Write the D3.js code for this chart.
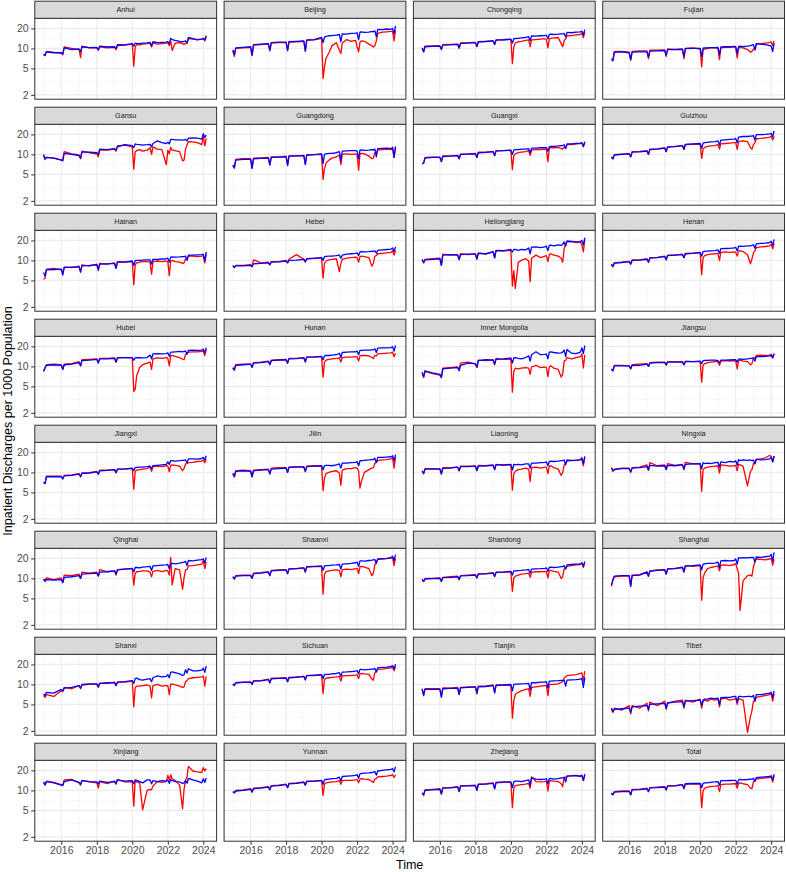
<!DOCTYPE html>
<html>
<head>
<meta charset="utf-8">
<script src="https://cdn.jsdelivr.net/npm/d3@7"></script>
<style>
  body { margin: 0; background: #ffffff; }
  svg { display: block; font-family: "Liberation Sans", Arial, Helvetica, sans-serif; }
</style>
</head>
<body>
<div id="chart"></div>
<script>
// Monthly time points sampled from the series (year-month)
var months = ["2015-01","2015-02","2015-03","2015-08","2016-01","2016-02","2016-03","2016-08",
  "2017-01","2017-02","2017-03","2017-08","2018-01","2018-02","2018-03","2018-08",
  "2019-01","2019-02","2019-03","2019-08",
  "2020-01","2020-02","2020-03","2020-04","2020-06","2020-08","2020-11",
  "2021-01","2021-02","2021-03","2021-06","2021-09","2021-12",
  "2022-01","2022-02","2022-03","2022-04","2022-06","2022-09","2022-11","2022-12",
  "2023-01","2023-02","2023-03","2023-06","2023-09","2023-12",
  "2024-01","2024-02","2024-03"];

// Axis tick labels
var yTicks = [2, 5, 10, 20];
var yMinor = [3.16, 7.07, 14.14];
var xTicks = [2016, 2018, 2020, 2022, 2024];
var xMinor = [2015, 2017, 2019, 2021, 2023];

// Red and blue series per province
var anhuiRed = [8.0,7.8,9.0,8.7, 8.5,8.0,10.5,10.0, 9.6,7.3,10.8,10.2, 10.2,9.4,10.6,10.2, 10.4,9.6,11.0,11.2, 11.6,5.4,10.5,11.5,11.3,11.6,11.8, 12.0,10.5,12.0,11.6,11.8,12.0, 12.2,11.0,13.0,9.3,12.0,12.2,11.8,11.5, 12.0,11.8,14.0,13.8,13.4,13.8, 14.0,13.0,15.0];
var anhuiBlue = [8.2,7.8,8.9,8.6, 8.6,8.3,10.2,9.6, 9.8,9.0,10.6,10.3, 10.4,9.5,10.8,10.5, 10.6,9.9,11.4,11.3, 11.8,10.8,12.0,11.9,11.8,12.0,12.1, 12.3,11.0,12.6,12.2,12.3,12.4, 12.6,11.8,14.2,13.6,13.2,12.8,12.6,12.8, 13.0,12.2,14.6,14.0,13.6,13.8, 14.2,13.4,15.6];

var beijingRed = [9.2,7.6,10.0,10.2, 10.4,7.8,11.2,11.4, 11.6,9.2,12.0,12.2, 12.2,9.2,12.4,12.6, 12.8,9.0,13.2,13.4, 14.2,3.5,5.3,7.1,8.6,11.0,12.2, 9.4,8.4,12.0,13.6,12.8,13.2, 10.5,8.9,12.4,13.0,12.8,11.6,11.0,10.5, 11.0,13.0,16.8,17.6,17.8,18.0, 18.0,13.0,18.9];
var beijingBlue = [9.5,8.0,10.2,10.4, 10.6,7.9,11.4,11.6, 11.8,9.4,12.2,12.4, 12.4,9.4,12.6,12.8, 13.0,9.2,13.4,13.6, 14.6,12.2,14.8,15.2,15.5,15.6,15.8, 16.2,12.6,16.6,16.4,16.8,17.0, 17.2,13.5,17.6,17.8,17.4,17.6,18.0,17.8, 18.4,15.0,19.4,19.2,19.6,19.4, 20.0,16.5,21.8];

var chongqingRed = [10.0,8.8,10.8,10.9, 11.0,9.8,11.4,11.5, 11.6,10.0,12.1,12.2, 12.3,10.6,12.6,12.8, 13.0,11.4,13.3,13.4, 13.6,5.9,10.5,12.0,12.6,12.8,13.2, 13.4,10.6,13.4,13.6,13.8,14.0, 13.6,10.2,13.8,14.2,14.4,14.6,11.8,10.6, 13.0,14.0,15.5,15.6,16.0,16.2, 17.0,14.5,17.4];
var chongqingBlue = [10.2,9.0,10.6,10.7, 10.8,9.6,11.2,11.3, 11.5,10.2,11.9,12.0, 12.2,10.8,12.6,12.7, 13.0,11.5,13.4,13.5, 13.8,12.0,14.0,14.1,14.2,14.4,14.6, 15.0,13.0,15.4,15.3,15.5,15.6, 15.8,14.0,16.2,16.4,16.2,16.4,16.6,16.5, 16.8,15.0,17.4,17.2,17.6,17.8, 18.2,16.0,19.2];

var fujianRed = [7.0,6.8,9.0,9.0, 8.8,6.6,9.0,9.2, 9.2,7.0,9.4,9.4, 9.5,7.6,9.8,9.7, 9.8,7.0,10.0,10.2, 9.8,5.3,9.6,9.8,10.0,10.2,10.2, 10.0,6.8,10.2,10.4,10.4,10.6, 10.2,7.2,10.0,10.4,10.2,9.6,8.8,9.0, 9.8,9.6,11.6,11.8,12.0,12.2, 12.6,11.0,13.0];
var fujianBlue = [6.8,6.5,8.7,8.9, 8.6,6.8,8.8,8.9, 8.9,7.4,9.1,9.2, 9.3,7.9,9.6,9.6, 9.7,7.6,9.9,10.0, 10.0,7.6,10.1,10.2,10.2,10.3,10.3, 10.4,8.0,10.5,10.6,10.6,10.7, 10.6,8.4,10.6,10.8,10.6,10.8,11.0,11.2, 11.4,9.4,11.8,11.6,11.4,11.0, 10.8,9.0,12.0];

var gansuRed = [9.6,8.4,9.0,8.8, 8.3,8.4,11.0,10.2, 9.8,8.6,11.2,10.6, 10.2,9.2,11.6,11.6, 12.0,11.2,13.4,13.8, 13.0,6.0,11.0,11.4,11.8,11.2,11.6, 12.6,10.0,13.0,12.0,11.8,7.0, 11.5,10.2,12.8,11.6,11.4,11.0,8.0,8.2, 12.0,14.0,15.6,15.4,15.0,14.0, 19.0,13.5,17.5];
var gansuBlue = [10.0,8.6,9.0,8.8, 8.2,8.0,10.4,10.0, 9.6,8.8,10.8,10.8, 10.6,10.0,12.0,11.8, 12.2,11.5,13.0,14.0, 13.6,12.6,14.4,14.2,14.0,13.8,14.0, 14.2,13.0,14.6,16.0,15.0,14.6, 15.2,14.5,16.8,16.8,16.6,16.6,16.4,16.6, 16.8,16.0,17.6,17.8,17.6,17.0, 20.5,18.0,19.5];

var guangdongRed = [6.8,6.4,8.4,8.6, 8.6,6.4,8.8,8.9, 9.0,7.0,9.2,9.2, 9.4,7.0,9.5,9.5, 9.7,7.2,9.8,9.9, 10.0,4.2,6.1,7.4,8.2,8.8,9.2, 9.8,7.0,10.0,10.2,10.0,10.2, 9.8,5.8,10.2,10.4,10.2,9.4,8.6,8.8, 10.6,10.4,11.6,11.8,12.0,11.8, 12.2,9.0,12.8];
var guangdongBlue = [6.9,6.2,8.2,8.4, 8.4,6.1,8.6,8.7, 8.8,6.9,9.0,9.1, 9.2,6.8,9.4,9.5, 9.6,7.0,9.8,9.9, 10.2,7.3,10.0,10.2,10.4,10.4,10.6, 11.0,8.0,11.2,11.3,11.4,11.4, 11.2,8.6,11.6,11.7,11.5,11.6,11.8,11.6, 12.0,9.2,12.2,12.3,12.4,12.2, 12.8,9.0,13.2];

var guangxiRed = [7.2,7.4,9.0,9.1, 9.1,7.8,9.5,9.5, 9.7,8.6,10.1,10.2, 10.4,9.0,10.8,10.8, 11.0,9.6,11.3,11.4, 11.5,5.9,9.6,10.2,10.6,10.8,11.0, 11.4,9.6,11.6,11.8,11.8,12.0, 11.8,7.8,12.4,12.6,12.6,12.8,12.2,12.0, 13.0,12.4,14.0,14.0,14.4,14.6, 14.8,13.0,15.2];
var guangxiBlue = [7.3,7.4,8.8,9.0, 9.0,7.8,9.3,9.4, 9.6,8.6,10.0,10.1, 10.2,9.0,10.6,10.7, 11.0,9.6,11.3,11.4, 11.6,10.0,11.6,11.8,11.8,12.0,12.0, 12.2,10.6,12.4,12.4,12.6,12.6, 12.8,11.2,13.0,13.2,13.2,13.4,13.6,13.6, 14.0,12.2,14.4,14.4,14.6,14.8, 15.0,13.2,15.6];

var guizhouRed = [9.0,8.6,9.9,10.1, 10.3,9.2,11.0,11.1, 11.4,10.0,12.0,12.1, 12.6,11.0,13.0,13.2, 13.6,11.8,14.0,14.2, 14.2,8.7,12.0,12.8,13.2,13.4,13.6, 14.0,12.0,14.4,14.6,14.8,15.0, 15.0,11.9,15.4,15.8,16.0,15.6,12.6,12.0, 14.0,15.0,17.2,17.4,17.8,18.2, 19.0,16.5,18.6];
var guizhouBlue = [9.2,8.6,9.8,10.0, 10.2,9.2,10.8,10.9, 11.2,10.0,11.8,12.0, 12.4,11.0,12.9,13.1, 13.6,12.0,14.2,14.4, 14.6,12.4,14.8,15.0,15.2,15.4,15.6, 16.0,13.8,16.4,16.6,16.8,17.0, 17.4,15.0,18.2,18.4,18.6,18.6,18.8,18.8, 19.2,16.4,19.8,19.8,20.0,20.4, 20.8,18.4,22.6];

var hainanRed = [5.2,5.4,7.4,7.6, 7.2,6.6,8.0,7.8, 8.2,6.6,8.6,8.2, 8.8,7.0,9.0,8.8, 9.2,7.6,9.6,9.5, 9.6,4.3,8.6,9.2,9.4,9.6,9.6, 9.4,6.2,9.6,9.8,9.6,9.8, 9.6,5.9,9.8,10.0,9.6,9.4,9.0,9.2, 10.6,10.4,11.6,11.6,11.4,11.6, 11.8,9.2,12.6];
var hainanBlue = [6.6,5.8,7.2,7.3, 7.4,6.0,7.8,7.9, 8.0,6.8,8.3,8.4, 8.6,7.2,8.8,8.9, 9.0,7.6,9.4,9.4, 9.8,8.4,9.9,10.0,10.0,10.1,10.2, 10.2,8.8,10.4,10.4,10.5,10.6, 10.8,9.4,11.2,11.3,11.2,11.3,11.4,11.4, 11.6,10.0,12.0,12.0,12.1,12.2, 12.4,9.8,13.4];

var hebeiRed = [8.2,7.8,8.4,8.4, 8.6,8.2,10.2,9.2, 9.4,8.6,9.6,9.6, 10.0,9.2,10.4,12.2, 10.4,9.4,10.6,10.8, 10.8,5.4,9.0,9.8,10.2,10.4,10.6, 6.8,9.0,10.4,10.8,11.0,11.2, 11.0,9.4,11.4,11.6,11.4,11.0,8.2,9.0, 11.6,11.8,12.6,12.8,13.0,13.2, 14.0,12.0,14.2];
var hebeiBlue = [8.4,7.8,8.3,8.3, 8.4,8.0,8.9,9.0, 9.2,8.6,9.4,9.5, 9.8,9.2,10.0,10.1, 10.4,9.6,10.6,10.7, 11.0,10.0,11.4,11.5,11.6,11.6,11.8, 12.0,10.8,12.0,12.4,12.6,12.8, 13.0,11.8,13.4,13.5,13.4,13.6,13.8,13.6, 14.0,12.8,14.2,14.4,14.6,14.8, 15.4,13.6,16.0];

var heilongjiangRed = [10.2,9.2,10.4,10.6, 10.8,8.4,12.4,12.0, 12.2,10.2,12.6,12.2, 12.6,10.4,13.0,12.4, 13.6,10.8,14.0,13.8, 14.2,4.1,7.0,3.8,9.4,10.0,10.6, 9.8,4.8,10.8,12.0,11.0,11.6, 11.8,9.6,12.2,12.6,12.0,11.6,10.8,9.4, 15.0,18.0,19.0,19.2,18.6,18.8, 17.0,13.5,20.8];
var heilongjiangBlue = [10.4,9.2,10.2,10.4, 10.6,8.4,12.0,12.2, 12.0,10.4,12.2,12.4, 12.4,10.6,12.8,12.6, 13.4,11.0,14.2,14.0, 14.6,13.4,14.6,14.6,14.2,14.6,14.4, 15.4,12.6,15.8,16.0,15.6,16.0, 16.4,14.0,16.8,17.0,16.6,17.2,16.8,17.4, 19.0,16.4,19.6,19.4,19.0,19.2, 20.0,17.0,22.0];

var henanRed = [8.6,8.0,9.2,9.4, 9.7,8.8,10.2,10.2, 10.6,9.4,11.0,11.1, 11.6,10.2,12.0,12.0, 12.4,11.0,12.7,12.9, 13.0,6.1,11.0,11.8,12.2,12.4,12.6, 12.8,10.0,13.2,13.4,13.2,13.4, 13.2,11.6,13.8,14.0,13.6,12.2,8.9,10.5, 13.0,14.0,15.6,16.0,16.2,16.6, 17.6,15.0,18.0];
var henanBlue = [8.8,8.2,9.1,9.3, 9.6,8.8,10.0,10.1, 10.4,9.4,10.8,11.0, 11.4,10.2,11.8,12.0, 12.2,11.0,12.6,12.8, 13.2,11.6,13.6,13.7,13.8,13.9,14.0, 14.4,12.8,15.0,15.1,15.2,15.4, 15.8,13.8,16.2,16.4,16.3,16.5,16.6,16.8, 17.2,15.2,17.8,18.0,18.2,18.6, 19.4,17.0,20.8];

var hubeiRed = [8.6,9.6,10.6,10.8, 10.6,9.2,10.8,11.0, 11.8,10.2,12.6,12.8, 13.0,11.4,13.2,13.2, 13.4,11.6,13.6,13.6, 13.4,4.2,4.5,7.3,9.6,10.6,11.2, 11.6,9.0,13.0,13.4,13.2,13.6, 13.2,10.2,14.4,14.6,14.2,13.6,12.8,12.6, 15.2,15.6,16.4,16.6,16.6,16.8, 17.0,14.5,18.2];
var hubeiBlue = [8.4,9.4,10.4,10.6, 10.4,9.0,10.6,10.8, 11.4,10.2,12.2,12.4, 12.8,11.2,13.0,13.0, 13.2,11.6,13.4,13.6, 13.6,12.4,13.4,13.5,13.6,13.4,13.6, 14.8,13.0,15.4,15.6,15.4,15.6, 16.0,14.2,16.4,16.4,16.6,16.8,16.6,16.8, 17.0,15.2,17.4,17.6,17.4,17.6, 18.2,16.0,19.2];

var hunanRed = [9.4,8.8,10.6,10.8, 10.8,9.8,11.4,11.6, 12.0,10.8,12.4,12.6, 12.8,11.2,13.2,13.2, 13.6,11.6,13.8,13.8, 14.0,6.9,11.6,12.4,12.8,13.0,13.2, 13.4,11.6,13.6,13.8,13.8,14.0, 14.0,12.0,14.4,14.6,14.6,14.4,13.6,13.2, 14.6,14.4,15.4,15.6,15.8,16.0, 16.4,14.0,15.8];
var hunanBlue = [9.6,8.8,10.4,10.6, 10.8,9.6,11.2,11.4, 11.8,10.6,12.2,12.4, 12.6,11.2,13.0,13.1, 13.4,11.8,13.8,13.9, 14.2,12.6,14.4,14.6,14.6,14.8,15.0, 15.8,13.6,16.2,16.4,16.6,16.6, 17.0,15.0,17.4,17.4,17.6,17.6,17.8,17.8, 18.4,16.2,18.8,19.0,19.0,19.2, 19.8,17.0,20.8];

var innerMongoliaRed = [8.0,6.8,8.4,7.8, 7.4,6.8,9.4,9.6, 9.8,8.8,11.2,11.6, 10.8,9.6,12.4,12.2, 12.6,10.6,13.2,12.8, 12.8,4.1,8.4,9.4,9.2,9.4,9.6, 9.4,7.6,9.8,10.4,9.6,9.8, 9.6,7.0,9.8,10.2,9.4,9.0,6.9,7.6, 12.0,12.4,13.6,13.0,13.6,14.0, 15.4,9.5,15.0];
var innerMongoliaBlue = [8.2,7.0,8.6,8.0, 7.6,6.8,9.2,9.4, 9.6,8.6,10.4,11.2, 11.0,9.8,12.2,12.6, 12.4,10.8,12.8,13.0, 13.4,11.2,13.4,13.6,13.2,13.0,13.6, 14.4,12.0,15.0,16.6,15.0,15.2, 15.4,13.0,16.4,16.6,16.2,15.8,16.0,16.4, 17.6,14.0,18.0,15.8,15.6,16.4, 19.0,15.6,20.6];

var jiangsuRed = [9.0,8.6,10.4,10.4, 10.2,9.2,10.6,10.8, 11.0,10.0,11.4,11.6, 11.6,10.4,11.8,11.8, 11.8,10.6,12.0,11.8, 11.8,5.8,10.4,11.0,11.4,11.6,11.8, 11.8,10.4,12.0,12.2,12.0,12.2, 12.0,9.2,12.2,12.4,12.0,11.8,10.6,11.0, 13.6,13.4,14.6,14.8,14.6,14.8, 15.2,13.6,15.6];
var jiangsuBlue = [9.2,8.6,10.2,10.2, 10.2,9.2,10.4,10.4, 10.8,10.0,11.2,11.4, 11.4,10.6,11.6,11.6, 11.6,10.6,11.8,11.8, 12.0,11.0,12.2,12.3,12.3,12.4,12.4, 12.2,11.2,12.4,12.4,12.5,12.6, 12.6,11.6,12.8,13.0,12.8,13.0,13.2,13.2, 13.4,12.0,14.0,14.0,14.2,14.4, 14.8,13.4,15.4];

var jiangxiRed = [7.0,6.8,8.8,8.8, 8.8,8.0,9.0,9.2, 9.6,8.6,9.8,9.9, 10.4,9.4,10.8,10.8, 11.0,9.8,11.2,11.2, 11.4,5.6,10.4,10.8,11.0,11.2,11.4, 12.0,10.4,12.2,12.4,12.2,12.6, 12.4,10.2,12.8,13.0,12.8,12.4,10.6,11.4, 13.4,13.6,14.0,14.2,14.6,14.8, 15.4,14.0,15.8];
var jiangxiBlue = [7.1,6.8,8.6,8.6, 8.6,8.0,8.9,9.0, 9.4,8.6,9.7,9.8, 10.2,9.4,10.6,10.7, 11.0,10.0,11.2,11.3, 11.6,10.6,11.8,11.9,12.0,12.0,12.2, 12.4,11.4,12.6,12.8,13.0,13.2, 14.4,13.2,15.0,15.0,14.8,15.0,15.2,15.2, 15.4,14.0,16.0,16.0,15.8,16.2, 16.8,15.4,17.8];

var jilinRed = [9.4,8.6,10.6,10.8, 10.6,8.6,10.8,11.0, 11.2,9.4,11.6,11.8, 11.8,10.0,12.0,12.2, 12.2,10.2,12.4,12.6, 12.4,5.3,8.2,9.6,10.0,10.4,10.6, 9.8,6.4,10.8,11.4,11.4,11.8, 11.6,10.6,5.8,7.4,10.0,11.0,11.6,11.8, 13.6,14.4,15.0,15.4,15.6,16.0, 16.6,11.6,17.0];
var jilinBlue = [9.7,8.6,10.4,10.6, 10.4,8.6,10.6,10.8, 11.0,9.6,11.2,11.4, 11.6,10.0,11.9,12.0, 12.0,10.4,12.2,12.4, 12.6,11.0,12.6,12.8,12.8,12.6,13.0, 13.4,11.6,13.8,13.8,14.0,14.2, 14.6,12.6,15.0,15.0,15.2,15.4,15.6,15.6, 16.4,14.0,16.8,16.8,17.0,17.2, 17.8,14.8,18.6];

var liaoningRed = [10.4,9.6,11.4,11.4, 11.4,9.6,11.8,11.8, 12.0,10.6,12.4,12.4, 12.4,10.8,12.8,12.6, 13.0,11.0,13.2,12.8, 13.0,5.4,9.6,10.4,11.0,11.2,11.6, 11.2,7.3,11.8,12.0,11.6,12.0, 12.0,9.6,12.4,12.6,11.8,11.2,9.0,9.8, 13.0,13.8,14.8,15.0,15.2,15.4, 16.0,12.6,17.0];
var liaoningBlue = [10.6,9.6,11.2,11.2, 11.2,9.4,11.5,11.6, 12.0,10.6,12.2,12.2, 12.4,10.6,12.4,12.6, 12.8,11.0,13.1,13.0, 13.2,10.8,13.2,13.1,13.2,13.0,13.4, 13.4,11.6,13.8,13.8,14.0,14.2, 14.4,12.6,14.6,14.8,14.6,14.8,15.0,15.0, 15.4,13.0,15.4,15.2,15.2,15.6, 16.6,13.6,17.4];

var ningxiaRed = [11.6,10.4,11.2,11.6, 11.6,10.0,11.8,12.0, 13.0,10.8,14.0,12.6, 13.0,11.0,13.6,12.8, 13.2,11.0,14.2,13.4, 13.4,5.2,11.0,11.6,12.0,12.2,12.4, 12.6,9.8,13.0,12.8,12.4,12.6, 12.8,10.6,13.2,13.0,12.4,6.3,10.4,11.0, 13.6,14.0,15.6,16.0,16.6,18.0, 17.4,14.6,17.6];
var ningxiaBlue = [11.9,10.6,11.0,11.4, 11.4,10.2,11.6,11.8, 12.2,10.8,12.8,12.4, 12.6,11.0,12.8,12.6, 13.0,11.2,13.2,13.4, 13.6,11.4,14.0,13.6,13.8,13.6,14.0, 14.2,12.0,14.4,14.0,14.6,14.4, 15.0,12.8,15.6,15.0,15.4,15.2,15.4,15.0, 15.4,13.4,15.8,15.4,15.6,16.0, 17.0,14.4,17.6];

var qinghaiRed = [9.6,9.4,10.2,9.6, 10.2,8.8,11.2,11.0, 11.6,10.0,12.4,12.0, 12.4,11.0,13.6,12.6, 13.0,11.2,13.6,13.8, 14.0,7.9,12.0,12.6,12.8,13.0,13.0, 12.4,10.6,12.8,13.2,12.6,13.2, 13.0,11.2,20.8,8.0,14.0,13.4,6.9,10.2, 13.4,13.6,15.4,15.6,16.0,16.4, 18.6,14.0,17.6];
var qinghaiBlue = [9.8,9.0,9.6,9.4, 9.6,8.6,10.4,10.6, 11.0,10.0,11.6,11.8, 12.0,10.8,12.4,12.6, 13.0,11.6,13.4,13.8, 14.2,12.6,14.6,14.6,14.4,14.8,15.0, 15.2,13.2,15.4,15.6,15.8,16.0, 16.2,14.0,16.4,16.8,16.6,17.0,17.4,17.6, 18.0,15.6,18.6,18.4,18.8,19.2, 19.8,17.0,20.8];

var shaanxiRed = [10.4,9.8,11.0,11.2, 11.2,10.0,12.0,12.2, 12.6,11.0,13.2,13.4, 13.6,11.8,14.0,14.0, 14.4,12.4,14.8,15.0, 15.0,5.8,11.6,12.6,13.0,13.2,13.4, 13.2,10.6,13.6,13.8,13.6,14.0, 14.2,11.8,15.0,15.2,14.8,14.0,11.0,12.0, 16.0,17.6,19.4,19.6,19.8,20.2, 20.4,15.6,20.2];
var shaanxiBlue = [10.6,9.8,10.8,11.0, 11.0,10.0,11.8,12.0, 12.4,11.0,13.0,13.2, 13.4,11.8,13.8,14.0, 14.4,12.6,15.0,15.2, 15.4,13.2,15.4,15.6,15.6,15.8,16.0, 16.2,13.8,16.4,16.6,16.8,17.2, 17.6,15.2,18.4,18.4,18.2,18.6,18.8,19.0, 19.2,16.8,19.6,19.8,20.0,20.6, 21.6,18.4,22.8];

var shandongRed = [9.4,9.0,10.0,10.0, 10.2,9.0,10.4,10.6, 10.8,9.6,11.0,11.2, 11.4,10.2,11.8,11.8, 12.2,10.6,12.4,12.4, 12.4,6.4,10.0,10.8,11.2,11.6,11.8, 12.0,10.4,12.4,12.6,12.6,12.8, 12.6,10.2,13.0,13.2,12.8,12.4,10.0,10.6, 13.8,14.2,15.2,15.6,16.0,16.2, 16.8,14.6,17.4];
var shandongBlue = [9.8,9.0,9.8,9.9, 10.0,9.0,10.3,10.4, 10.6,9.6,10.9,11.0, 11.2,10.2,11.6,11.7, 12.0,10.8,12.3,12.4, 12.8,11.2,13.0,13.0,13.1,13.2,13.4, 13.6,12.0,13.8,13.9,14.0,14.2, 14.4,12.8,14.6,14.8,14.6,14.8,15.0,15.0, 15.6,13.8,16.0,16.2,16.4,16.6, 17.2,15.4,18.0];

var shanghaiRed = [7.6,9.4,10.6,10.8, 10.8,7.8,11.2,11.4, 12.6,10.8,13.0,13.4, 13.6,11.6,14.0,14.2, 14.8,12.4,15.4,15.2, 15.6,4.7,10.2,12.0,14.0,14.6,15.0, 15.4,13.0,15.8,16.0,15.6,16.2, 16.8,14.0,12.0,3.3,9.2,11.0,11.2,10.8, 15.0,18.0,19.6,19.4,19.0,19.6, 20.2,15.8,19.4];
var shanghaiBlue = [8.0,9.6,10.8,11.0, 11.0,7.6,11.0,11.2, 12.4,10.8,12.8,13.2, 13.4,11.6,13.8,14.0, 14.6,12.6,15.4,15.6, 16.0,13.4,16.4,16.6,16.8,16.8,17.0, 17.6,14.6,18.4,18.6,18.4,18.6, 19.6,16.4,20.6,20.2,20.6,20.4,20.8,20.6, 20.8,17.6,21.0,20.8,21.2,21.6, 23.0,18.4,24.6];

var shanxiRed = [6.8,6.4,7.0,6.6, 8.0,7.8,9.0,8.6, 9.6,8.6,9.8,10.0, 10.0,9.0,10.4,10.4, 10.8,9.6,10.8,10.8, 11.2,4.6,9.0,9.4,9.4,9.6,9.8, 9.4,6.3,9.6,10.0,9.4,9.6, 9.6,7.0,10.0,10.2,9.8,9.4,9.0,9.2, 11.0,11.4,12.2,12.6,12.8,13.0, 13.4,9.4,13.2];
var shanxiBlue = [7.2,6.8,7.6,7.4, 8.4,8.0,8.8,9.0, 9.6,8.8,10.0,10.2, 10.2,9.2,10.4,10.6, 10.6,9.6,10.8,11.0, 11.4,10.4,12.2,12.4,11.8,11.6,12.0, 12.2,11.0,12.6,13.4,13.0,13.2, 14.0,12.6,15.2,15.4,15.0,14.4,13.6,14.0, 16.6,14.8,17.2,16.0,16.0,16.4, 17.6,15.2,18.8];

var sichuanRed = [10.0,9.6,10.6,10.8, 10.8,10.0,11.4,11.4, 12.0,10.6,12.4,12.4, 12.6,11.0,12.8,13.0, 13.2,11.6,13.6,13.6, 13.8,7.3,11.8,12.4,12.6,12.8,13.0, 13.2,11.2,13.4,13.6,13.6,13.8, 14.0,12.2,14.4,14.6,14.4,14.2,12.0,11.6, 15.0,15.6,16.8,17.0,17.4,17.8, 18.2,16.0,18.8];
var sichuanBlue = [10.2,9.6,10.6,10.7, 10.8,10.0,11.2,11.3, 11.8,10.6,12.1,12.3, 12.4,11.0,12.6,12.8, 13.2,11.8,13.6,13.8, 14.0,12.2,14.1,14.2,14.2,14.4,14.6, 15.0,13.2,15.3,15.4,15.6,15.8, 16.2,14.4,16.8,16.8,16.6,16.8,17.0,17.0, 17.4,15.4,17.8,18.0,18.2,18.6, 19.2,17.0,20.2];

var tianjinRed = [8.4,7.0,8.6,8.6, 8.6,6.6,8.9,8.8, 9.0,7.2,9.0,9.2, 9.2,7.2,9.4,9.4, 9.8,7.4,9.8,9.8, 9.6,3.1,5.6,7.1,7.6,8.0,8.4, 8.6,6.6,9.0,9.2,9.4,9.6, 9.6,6.8,9.8,10.0,10.0,10.2,10.8,11.0, 12.4,13.0,13.6,13.8,14.0,14.6, 15.0,11.4,15.8];
var tianjinBlue = [8.6,6.8,8.4,8.4, 8.4,6.4,8.6,8.7, 8.8,7.0,8.9,9.0, 9.2,7.4,9.2,9.3, 9.6,7.6,9.7,9.8, 10.0,8.0,10.0,10.1,10.1,10.2,10.3, 10.4,8.2,10.6,10.6,10.8,10.8, 11.0,8.8,11.2,11.2,11.3,11.4,11.5,11.5, 11.6,9.4,11.6,11.7,11.8,12.0, 12.4,9.0,12.8];

var tibetRed = [4.2,3.8,4.4,4.1, 4.8,3.6,4.8,4.4, 5.2,4.0,5.4,4.8, 5.6,4.2,5.2,5.6, 5.8,4.4,5.8,5.4, 6.0,4.4,5.6,5.8,5.6,6.0,5.8, 6.0,4.6,6.0,6.2,5.8,6.0, 6.2,5.0,6.2,6.0,5.8,1.9,3.3,4.0, 5.6,5.6,6.4,6.6,6.8,7.0, 7.2,5.6,7.2];
var tibetBlue = [4.4,3.9,4.2,4.3, 4.4,3.8,4.6,4.7, 4.8,4.2,5.0,5.1, 5.2,4.4,5.3,5.4, 5.5,4.6,5.6,5.7, 5.8,4.8,5.8,6.0,6.0,6.2,6.1, 6.2,5.0,6.3,6.4,6.4,6.6, 6.6,5.4,6.6,6.6,6.5,6.6,6.6,6.5, 6.8,5.6,7.0,7.0,7.2,7.4, 7.6,6.4,8.0];

var xinjiangRed = [13.4,12.2,13.8,13.2, 12.2,12.0,14.4,14.6, 13.0,12.0,14.2,13.4, 13.0,10.8,13.6,12.6, 13.8,12.4,14.6,13.4, 13.6,5.8,14.2,13.4,13.0,5.1,10.0, 10.4,10.2,11.6,13.6,13.2,13.6, 16.8,14.4,17.2,15.0,14.2,12.0,5.3,10.4, 14.0,16.0,23.0,19.6,19.0,18.6, 22.0,19.6,21.4];
var xinjiangBlue = [13.2,12.0,13.6,13.0, 12.0,11.8,13.6,14.4, 13.2,12.4,14.0,13.6, 13.4,12.6,13.8,13.2, 13.6,12.8,14.4,13.8, 14.0,12.6,14.4,14.2,13.6,13.0,14.4, 14.4,12.6,14.0,13.6,14.0,13.8, 14.4,12.8,14.6,14.0,13.6,13.4,12.8,13.0, 14.0,12.8,15.2,14.4,13.8,13.0, 15.0,13.2,15.4];

var yunnanRed = [9.4,9.2,10.0,10.2, 10.6,9.6,10.8,11.0, 11.4,10.4,11.8,12.0, 12.4,11.0,12.8,13.0, 13.4,12.0,13.8,13.8, 14.0,8.4,12.4,13.0,13.2,13.4,13.6, 14.0,12.4,14.0,14.2,14.2,14.4, 14.6,13.0,14.8,15.0,14.8,14.6,13.6,13.2, 14.8,15.0,16.0,16.2,16.4,16.8, 17.4,15.6,17.2];
var yunnanBlue = [9.6,9.2,9.8,10.0, 10.4,9.4,10.6,10.8, 11.2,10.2,11.6,11.8, 12.2,11.0,12.6,12.8, 13.2,12.0,13.6,13.8, 14.2,12.4,14.4,14.6,14.8,15.0,15.2, 15.8,13.8,16.2,16.4,16.6,16.8, 17.4,15.2,17.8,18.0,18.2,18.4,18.6,18.8, 19.2,17.0,19.6,20.0,20.4,20.8, 21.4,19.0,22.6];

var zhejiangRed = [9.0,8.4,10.2,10.4, 10.6,8.8,11.0,11.0, 11.4,9.6,11.8,11.8, 12.0,10.0,12.4,12.6, 13.0,10.6,13.0,13.2, 13.2,5.5,10.8,11.8,12.0,12.2,12.4, 12.8,10.8,16.0,13.6,13.4,13.6, 13.8,9.8,13.8,14.0,13.8,13.6,12.6,11.4, 15.8,15.6,16.4,16.6,16.6,16.2, 16.6,14.0,17.0];
var zhejiangBlue = [9.2,8.6,10.0,10.2, 10.4,8.8,10.8,10.9, 11.2,9.6,11.6,11.7, 11.8,10.0,12.3,12.4, 12.8,10.6,13.2,13.4, 13.4,11.0,13.4,13.8,13.8,13.6,14.0, 14.4,12.0,15.6,14.8,14.6,14.8, 15.0,12.6,15.0,15.2,14.8,15.0,15.4,15.4, 15.6,13.4,16.4,16.6,16.8,16.4, 17.0,14.2,17.6];

var totalRed = [8.8,8.6,9.6,9.8, 9.8,8.6,10.4,10.4, 10.8,9.6,11.0,11.2, 11.4,10.2,11.8,11.8, 12.2,10.6,12.4,12.4, 12.4,5.5,9.8,10.8,11.2,11.4,11.6, 11.8,9.6,12.2,12.4,12.4,12.6, 12.6,10.8,12.8,13.0,12.6,12.2,10.8,10.6, 13.6,14.0,14.8,15.2,15.4,15.6, 16.0,13.4,16.6];
var totalBlue = [9.2,8.6,9.4,9.6, 9.6,8.6,10.2,10.3, 10.6,9.6,10.9,11.0, 11.2,10.2,11.6,11.7, 12.2,10.8,12.6,12.7, 12.8,11.0,12.8,13.0,13.0,13.2,13.4, 13.6,11.8,14.0,14.0,14.1,14.2, 14.2,12.4,14.4,14.6,14.4,14.6,14.8,14.8, 15.2,13.6,15.6,15.8,16.0,16.2, 16.6,14.4,17.6];

// Facet order, left to right, top to bottom
var facets = [
  {name: "Anhui", red: anhuiRed, blue: anhuiBlue},
  {name: "Beijing", red: beijingRed, blue: beijingBlue},
  {name: "Chongqing", red: chongqingRed, blue: chongqingBlue},
  {name: "Fujian", red: fujianRed, blue: fujianBlue},
  {name: "Gansu", red: gansuRed, blue: gansuBlue},
  {name: "Guangdong", red: guangdongRed, blue: guangdongBlue},
  {name: "Guangxi", red: guangxiRed, blue: guangxiBlue},
  {name: "Guizhou", red: guizhouRed, blue: guizhouBlue},
  {name: "Hainan", red: hainanRed, blue: hainanBlue},
  {name: "Hebei", red: hebeiRed, blue: hebeiBlue},
  {name: "Heilongjiang", red: heilongjiangRed, blue: heilongjiangBlue},
  {name: "Henan", red: henanRed, blue: henanBlue},
  {name: "Hubei", red: hubeiRed, blue: hubeiBlue},
  {name: "Hunan", red: hunanRed, blue: hunanBlue},
  {name: "Inner Mongolia", red: innerMongoliaRed, blue: innerMongoliaBlue},
  {name: "Jiangsu", red: jiangsuRed, blue: jiangsuBlue},
  {name: "Jiangxi", red: jiangxiRed, blue: jiangxiBlue},
  {name: "Jilin", red: jilinRed, blue: jilinBlue},
  {name: "Liaoning", red: liaoningRed, blue: liaoningBlue},
  {name: "Ningxia", red: ningxiaRed, blue: ningxiaBlue},
  {name: "Qinghai", red: qinghaiRed, blue: qinghaiBlue},
  {name: "Shaanxi", red: shaanxiRed, blue: shaanxiBlue},
  {name: "Shandong", red: shandongRed, blue: shandongBlue},
  {name: "Shanghai", red: shanghaiRed, blue: shanghaiBlue},
  {name: "Shanxi", red: shanxiRed, blue: shanxiBlue},
  {name: "Sichuan", red: sichuanRed, blue: sichuanBlue},
  {name: "Tianjin", red: tianjinRed, blue: tianjinBlue},
  {name: "Tibet", red: tibetRed, blue: tibetBlue},
  {name: "Xinjiang", red: xinjiangRed, blue: xinjiangBlue},
  {name: "Yunnan", red: yunnanRed, blue: yunnanBlue},
  {name: "Zhejiang", red: zhejiangRed, blue: zhejiangBlue},
  {name: "Total", red: totalRed, blue: totalBlue}
];

// Layout
var outerWidth = 786, outerHeight = 872;
var nCols = 4;
var panelLeft = 34.8, panelTop = 1.2;
var panelW = 181.8, panelH = 80.8, stripH = 17.2;
var colStep = 189.3, rowStep = 106;
var nRows = Math.ceil(facets.length / nCols);

var svg = d3.select('#chart').append('svg')
  .attr('width', outerWidth)
  .attr('height', outerHeight);

var parseMonth = d3.timeParse('%Y-%m');
var dates = months.map(parseMonth);

// Shared scales (fixed facets)
var x = d3.scaleTime()
  .domain([new Date(2014, 6, 5), new Date(2024, 9, 1)])
  .range([0, panelW]);
var y = d3.scaleLog()
  .domain([1.72, 28.3])
  .range([panelH, 0]);

var line = d3.line()
  .defined(function(d) { return d != null; })
  .x(function(d, i) { return x(dates[i]); })
  .y(function(d) { return y(d); });

facets.forEach(function(f, k) {
  var col = k % nCols, row = Math.floor(k / nCols);
  var g = svg.append('g')
    .attr('transform', 'translate(' + (panelLeft + col * colStep) + ',' + (panelTop + row * rowStep) + ')');

  // Strip
  g.append('rect')
    .attr('x', 0).attr('y', 0)
    .attr('width', panelW).attr('height', stripH)
    .attr('fill', '#D9D9D9')
    .attr('stroke', '#333333')
    .attr('stroke-width', 1);
  g.append('text')
    .attr('x', panelW / 2)
    .attr('y', stripH / 2 + 2.5)
    .attr('text-anchor', 'middle')
    .style('font-size', '7.2px')
    .style('fill', '#1A1A1A')
    .text(f.name);

  var p = g.append('g').attr('transform', 'translate(0,' + stripH + ')');

  p.append('rect')
    .attr('width', panelW).attr('height', panelH)
    .attr('fill', '#ffffff');

  // Grid lines
  p.selectAll('.ymin').data(yMinor).enter().append('line')
    .attr('x1', 0).attr('x2', panelW)
    .attr('y1', function(d) { return y(d); }).attr('y2', function(d) { return y(d); })
    .attr('stroke', '#F2F2F2').attr('stroke-width', 0.6);
  p.selectAll('.xmin').data(xMinor).enter().append('line')
    .attr('y1', 0).attr('y2', panelH)
    .attr('x1', function(d) { return x(new Date(d, 0, 1)); }).attr('x2', function(d) { return x(new Date(d, 0, 1)); })
    .attr('stroke', '#F2F2F2').attr('stroke-width', 0.6);
  p.selectAll('.ymaj').data(yTicks).enter().append('line')
    .attr('x1', 0).attr('x2', panelW)
    .attr('y1', function(d) { return y(d); }).attr('y2', function(d) { return y(d); })
    .attr('stroke', '#EBEBEB').attr('stroke-width', 1.1);
  p.selectAll('.xmaj').data(xTicks).enter().append('line')
    .attr('y1', 0).attr('y2', panelH)
    .attr('x1', function(d) { return x(new Date(d, 0, 1)); }).attr('x2', function(d) { return x(new Date(d, 0, 1)); })
    .attr('stroke', '#EBEBEB').attr('stroke-width', 1.1);

  // Series: red under blue
  p.append('path')
    .attr('d', line(f.red))
    .attr('fill', 'none')
    .attr('stroke', '#FF0000')
    .attr('stroke-width', 1.3)
    .attr('stroke-linejoin', 'round');
  p.append('path')
    .attr('d', line(f.blue))
    .attr('fill', 'none')
    .attr('stroke', '#0000FF')
    .attr('stroke-width', 1.3)
    .attr('stroke-linejoin', 'round');

  // Panel border
  p.append('rect')
    .attr('width', panelW).attr('height', panelH)
    .attr('fill', 'none')
    .attr('stroke', '#333333')
    .attr('stroke-width', 1);

  // Left axis on first column
  if (col === 0) {
    var ya = p.append('g')
      .call(d3.axisLeft(y).tickValues(yTicks).tickFormat(d3.format('d')).tickSize(3.6).tickPadding(2.5));
    ya.select('.domain').remove();
    ya.selectAll('line').attr('stroke', '#333333');
    ya.selectAll('text').style('font-size', '10.5px').style('fill', '#4D4D4D');
  }
  // Bottom axis on last row
  if (row === nRows - 1) {
    var xa = p.append('g')
      .attr('transform', 'translate(0,' + panelH + ')')
      .call(d3.axisBottom(x)
        .tickValues(xTicks.map(function(d) { return new Date(d, 0, 1); }))
        .tickFormat(d3.timeFormat('%Y')).tickSize(3.6).tickPadding(2));
    xa.select('.domain').remove();
    xa.selectAll('line').attr('stroke', '#333333');
    xa.selectAll('text').style('font-size', '10.5px').style('fill', '#4D4D4D');
  }
});

// Axis titles
var gridW = colStep * (nCols - 1) + panelW;
svg.append('text')
  .attr('x', panelLeft + gridW / 2)
  .attr('y', 869)
  .attr('text-anchor', 'middle')
  .style('font-size', '12.5px')
  .style('fill', '#000000')
  .text('Time');

svg.append('text')
  .attr('transform', 'translate(12,' + 421 + ') rotate(-90)')
  .attr('text-anchor', 'middle')
  .style('font-size', '12.5px')
  .style('fill', '#000000')
  .text('Inpatient Discharges per 1000 Population');
</script>
</body>
</html>
